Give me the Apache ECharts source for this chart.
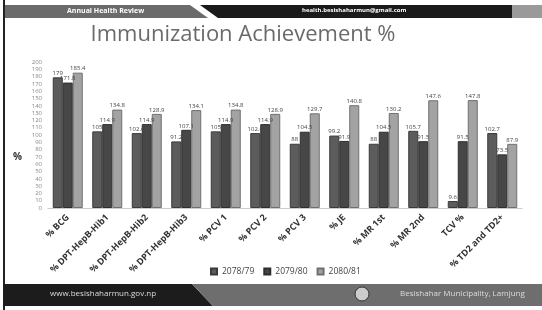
<!DOCTYPE html>
<html>
<head>
<meta charset="utf-8">
<script src="https://cdn.jsdelivr.net/npm/echarts@6/dist/echarts.min.js"></script>
<style>
  html, body { margin: 0; padding: 0; background: #fff; }
  #chart { width: 542px; height: 310px; }
</style>
</head>
<body>
<div id="chart"></div>
<script>
// 类别（疫苗）
var categories = ['% BCG', '% DPT-HepB-Hib1', '% DPT-HepB-Hib2', '% DPT-HepB-Hib3',
  '% PCV 1', '% PCV 2', '% PCV 3', '% JE', '% MR 1st', '% MR 2nd', 'TCV %', '% TD2 and TD2+'];
// 各年度数据
var years = ['2078/79', '2079/80', '2080/81'];
var v7879 = [179, 105, 102.6, 91.2, 105, 102.6, 88, 99.2, 88, 105.7, 9.6, 102.7];
var v7980 = [171.8, 114.9, 114.9, 107.1, 114.9, 114.9, 104.5, 91.9, 104.5, 91.5, 91.5, 73.5];
var v8081 = [185.4, 134.8, 128.9, 134.1, 134.8, 128.9, 129.7, 140.8, 130.2, 147.6, 147.8, 87.9];
var yTicks = { min: 0, max: 200, interval: 10 };

var colors = ['#5c5c5c', '#474747', '#a3a3a3'];
var borders = ['#3a3a3a', '#2e2e2e', '#6f6f6f'];

var chart = echarts.init(document.getElementById('chart'));

function makeSeries(name, data, i) {
  return {
    name: name,
    type: 'bar',
    data: data,
    barWidth: 10,
    barGap: '0%',
    itemStyle: { color: colors[i], borderColor: borders[i], borderWidth: 1 },
    label: {
      show: true,
      position: 'top',
      distance: 1,
      fontSize: 6,
      color: '#444',
      fontFamily: 'Open Sans'
    }
  };
}

chart.setOption({
  animation: false,
  backgroundColor: '#fff',
  title: {
    text: 'Immunization Achievement %',
    left: 238,
    textAlign: 'center',
    top: 19,
    textStyle: { fontSize: 22, fontWeight: 'normal', color: '#6a6a6a', fontFamily: 'Open Sans' }
  },
  // 页眉页脚装饰
  graphic: [
    { type: 'rect', shape: { x: 3, y: 0, width: 2, height: 310 }, style: { fill: '#222' } },
    { type: 'polygon', shape: { points: [[5, 5], [190, 5], [208, 18], [5, 18]] }, style: { fill: '#6b6b6b' } },
    { type: 'polygon', shape: { points: [[200, 5], [512, 5], [512, 18], [218, 18]] }, style: { fill: '#1a1a1a' } },
    { type: 'rect', shape: { x: 512, y: 5, width: 30, height: 13 }, style: { fill: '#9a9a9a' } },
    { type: 'text', left: 67, top: 7, style: { text: 'Annual Health Review', fill: '#fff', font: 'bold 7px "Open Sans"' } },
    { type: 'text', left: 302, top: 7, style: { text: 'health.besishaharmun@gmail.com', fill: '#fff', font: 'bold 6px "Open Sans"' } },
    { type: 'polygon', shape: { points: [[3, 284], [192, 284], [213, 306], [3, 306]] }, style: { fill: '#1c1c1c' } },
    { type: 'polygon', shape: { points: [[192, 284], [542, 284], [542, 306], [213, 306]] }, style: { fill: '#6e6e6e' } },
    { type: 'text', left: 50, top: 290, style: { text: 'www.besishaharmun.gov.np', fill: '#ddd', font: '8px "Open Sans"' } },
    { type: 'circle', shape: { cx: 362, cy: 294, r: 7 }, style: { fill: '#ccc', stroke: '#333', lineWidth: 1 } },
    { type: 'text', left: 400, top: 290, style: { text: 'Besishahar Municipality, Lamjung', fill: '#ddd', font: '8px "Open Sans"' } },
    { type: 'text', left: 13, top: 152, style: { text: '%', fill: '#333', font: 'bold 10px "Open Sans"' } }
  ],
  legend: {
    data: years,
    left: 205,
    top: 262,
    icon: 'rect',
    itemWidth: 6,
    itemHeight: 6,
    itemGap: 9,
    textStyle: { fontSize: 8.5, color: '#444', fontFamily: 'Open Sans' }
  },
  grid: { left: 48, right: 20, top: 62, bottom: 102 },
  xAxis: {
    type: 'category',
    data: categories,
    axisLine: { lineStyle: { color: '#ccc' } },
    axisTick: { show: false },
    axisLabel: {
      interval: 0,
      rotate: 45,
      fontSize: 9,
      fontWeight: 'bold',
      color: '#333',
      margin: 8,
      fontFamily: 'Open Sans'
    }
  },
  yAxis: {
    type: 'value',
    min: yTicks.min,
    max: yTicks.max,
    interval: yTicks.interval,
    axisLine: { show: false },
    axisTick: { show: false },
    splitLine: { show: false },
    axisLabel: { fontSize: 6, color: '#888', margin: 6, fontFamily: 'Open Sans' }
  },
  series: [
    makeSeries(years[0], v7879, 0),
    makeSeries(years[1], v7980, 1),
    makeSeries(years[2], v8081, 2)
  ]
});
</script>
</body>
</html>
